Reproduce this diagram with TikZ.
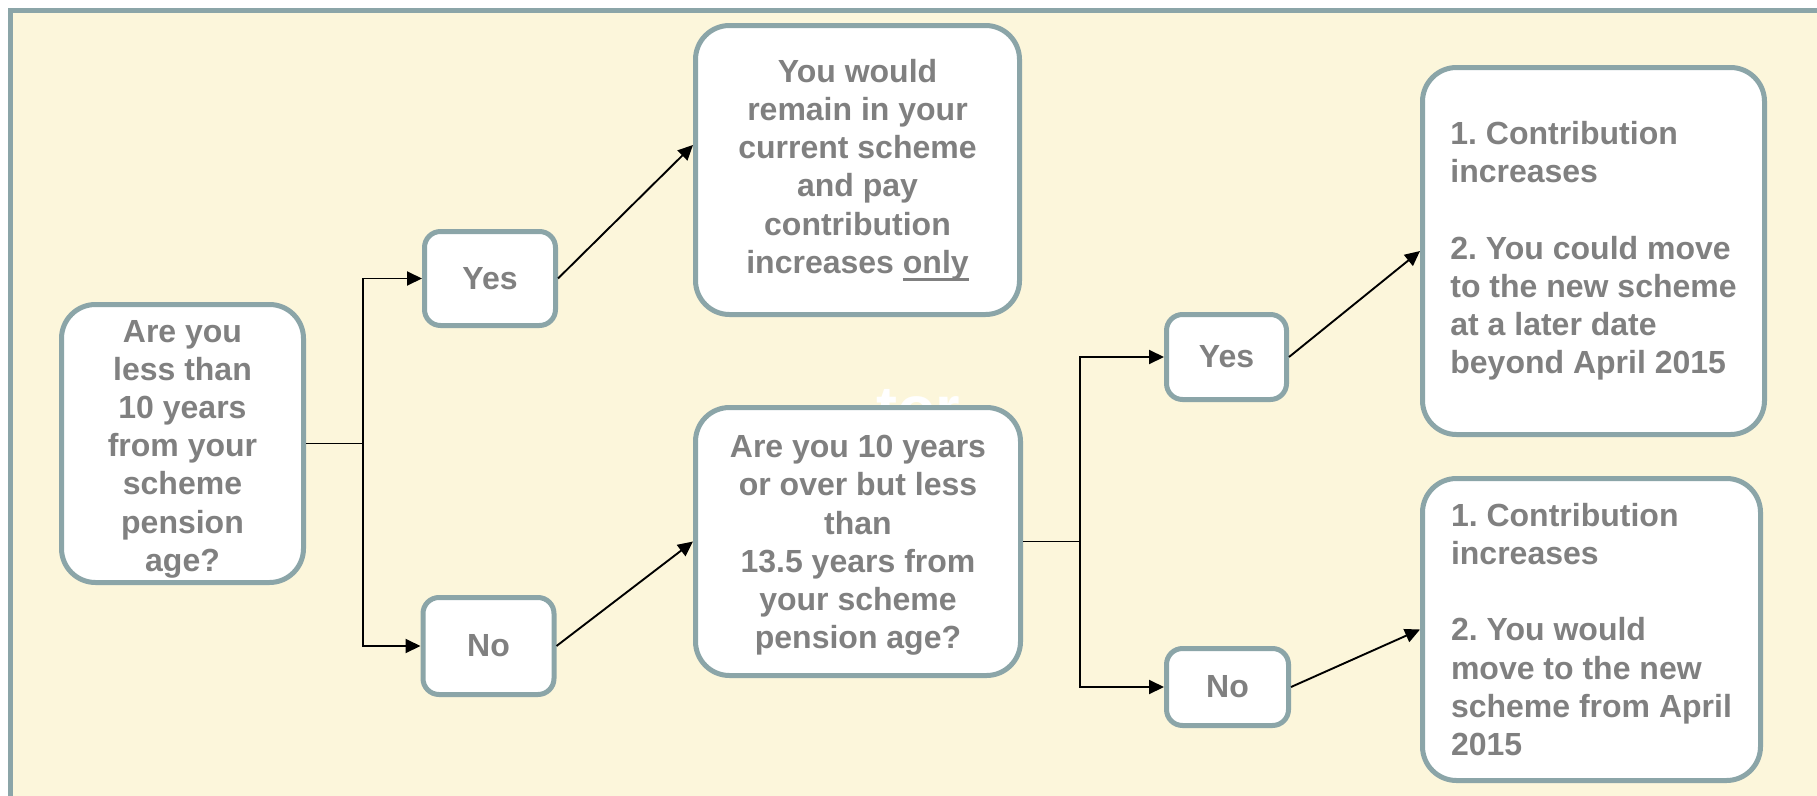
\documentclass[tikz,border=0pt]{standalone}
\usepackage{fontspec}
\setmainfont{Liberation Sans}
\usetikzlibrary{arrows.meta,calc}
\definecolor{framec}{HTML}{8BA5A8}
\definecolor{creamc}{HTML}{FCF6DB}
\definecolor{txtc}{HTML}{808080}
\newcommand\myul[1]{\setbox0\hbox{#1}\rlap{\rule[-7.5pt]{\wd0}{3pt}}\box0}
\frenchspacing
\begin{document}
\begin{tikzpicture}[x=1pt,y=-1pt,
  basebox/.style={draw=framec, line width=5pt, fill=white, text=txtc,
    font=\fontsize{32}{38.2}\selectfont\bfseries\frenchspacing, align=center, inner sep=0pt},
  bigbox/.style={basebox, rounded corners=34pt},
  ansbox/.style={basebox, rounded corners=16pt},
  conn/.style={line width=1.9pt, black},
  arr/.style={conn, -{Triangle[length=15pt,width=14pt]}}
]
\useasboundingbox (0,0) rectangle (1817,795);
\fill[white] (0,0) rectangle (1817,795);
\begin{scope}
\clip (0,0) rectangle (1817,795);
\draw[draw=framec, line width=5pt, fill=creamc] (10.8,10.8) rectangle (1830,810);
\end{scope}

% faint watermark fragment
\node[text=white, font=\fontsize{63}{70}\selectfont\bfseries, anchor=base, inner sep=0pt] (wm) at (918,430) {tor};

% question 1
\node[bigbox, minimum width=242pt, minimum height=278pt] (q1) at (182.5,443.5)
  {\rule{0pt}{33pt}Are you\\less than\\10 years\\from your\\scheme\\pension\\age?};
\node[ansbox, minimum width=131pt, minimum height=94pt] (yes1) at (490,278.5) {Yes};
\node[ansbox, minimum width=131pt, minimum height=97pt] (no1) at (488.5,646) {No};

% outcome 1
\node[bigbox, minimum width=324pt, minimum height=289pt] (r1) at (857.5,170)
  {You would\\remain in your\\current scheme\\and pay\\contribution\\increases \myul{only}};

% question 2
\node[bigbox, minimum width=325pt, minimum height=268pt] (q2) at (858,541.5)
  {\rule{0pt}{30pt}Are you 10 years\\or over but less\\than\\13.5 years from\\your scheme\\pension age?};
\node[ansbox, minimum width=120pt, minimum height=85pt] (yes2) at (1226.5,357) {Yes};
\node[ansbox, minimum width=122pt, minimum height=77pt] (no2) at (1227.5,687) {No};

% outcomes 2
\node[bigbox, align=left, minimum width=342pt, minimum height=367pt] (r2) at (1593.5,251)
  {1. Contribution\\increases\\[38.2pt]2. You could move\\to the new scheme\\at a later date\\beyond April 2015};
\node[bigbox, align=left, minimum width=338pt, minimum height=302pt] (r3) at (1591.5,629.5)
  {1. Contribution\\increases\\[38.2pt]2. You would\\move to the new\\scheme from April\\2015};

% connectors
\coordinate (j1) at ($(q1.east)+(57,0)$);
\draw[conn] (q1.east) -- (j1);
\draw[arr] (j1) |- (yes1.west);
\draw[arr] (j1) |- (no1.west);
\draw[arr] (yes1.east) -- ($(r1.west)+(0,-25)$);
\draw[arr] (no1.east) -- (q2.west);

\coordinate (j2) at ($(q2.east)+(57,0)$);
\draw[conn] (q2.east) -- (j2);
\draw[arr] (j2) |- (yes2.west);
\draw[arr] (j2) |- (no2.west);
\draw[arr] (yes2.east) -- (r2.west);
\draw[arr] (no2.east) -- (r3.west);
\end{tikzpicture}
\end{document}
